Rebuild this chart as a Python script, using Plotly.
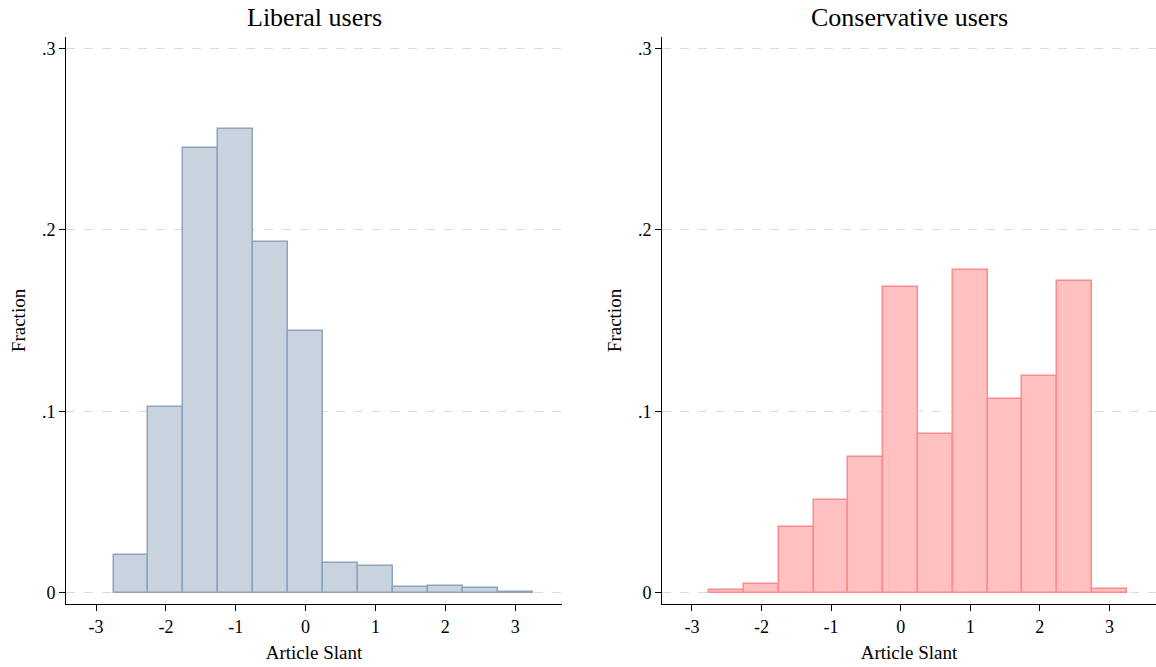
import plotly.graph_objects as go

# Histogram bins: width 0.5, centered on -2.5 ... 3.0
bin_centers = [-2.5, -2.0, -1.5, -1.0, -0.5, 0.0, 0.5, 1.0, 1.5, 2.0, 2.5, 3.0]
bin_width = 0.5

liberal_fraction = [0.0205, 0.1021, 0.2451, 0.2559, 0.1931, 0.1445,
                    0.0162, 0.0145, 0.0030, 0.0035, 0.0025, 0.0005]
conservative_fraction = [0.0013, 0.0046, 0.0360, 0.0509, 0.0746, 0.1683,
                         0.0876, 0.1777, 0.1067, 0.1193, 0.1716, 0.0019]

panel_titles = ["Liberal users", "Conservative users"]
x_ticks = [-3, -2, -1, 0, 1, 2, 3]
x_tick_text = ["-3", "-2", "-1", "0", "1", "2", "3"]
y_ticks = [0, 0.1, 0.2, 0.3]
y_tick_text = ["0", ".1", ".2", ".3"]

FONT = "Liberation Serif"
W, H = 1156, 667
M_L, M_R, M_T, M_B = 66, 0, 37, 63
plot_w = W - M_L - M_R
plot_h = H - M_T - M_B

left_dom = [0, (562 - M_L) / plot_w]
right_dom = [(662 - M_L) / plot_w, 1]

fig = go.Figure()

fig.add_trace(go.Bar(
    x=bin_centers, y=liberal_fraction, width=bin_width,
    marker=dict(color="rgb(200,211,221)", line=dict(color="rgb(142,164,190)", width=1.5)),
    xaxis="x", yaxis="y", showlegend=False,
))
fig.add_trace(go.Bar(
    x=bin_centers, y=conservative_fraction, width=bin_width,
    marker=dict(color="rgb(255,192,193)", line=dict(color="rgb(255,138,140)", width=1.5)),
    xaxis="x2", yaxis="y2", showlegend=False,
))

x_range = [-3.43, 3.67]
y_range = [-0.0063, 0.3064]

common_x = dict(
    range=x_range, tickmode="array", tickvals=x_ticks, ticktext=x_tick_text,
    showgrid=False, zeroline=False, showline=True, linecolor="black", linewidth=1,
    ticks="outside", ticklen=6, tickcolor="black", tickwidth=1,
    tickfont=dict(family=FONT, size=18, color="black"),
    title=dict(text="Article Slant", font=dict(family=FONT, size=19, color="black"), standoff=10),
)
common_y = dict(
    range=y_range, tickmode="array", tickvals=y_ticks, ticktext=y_tick_text,
    showgrid=True, gridcolor="rgb(220,220,220)", griddash="dash", gridwidth=1,
    zeroline=False, showline=True, linecolor="black", linewidth=1,
    ticks="outside", ticklen=6, tickcolor="black", tickwidth=1,
    tickfont=dict(family=FONT, size=18, color="black"),
    title=dict(text="Fraction", font=dict(family=FONT, size=19, color="black"), standoff=11),
)

fig.update_layout(
    width=W, height=H,
    margin=dict(l=M_L, r=M_R, t=M_T, b=M_B),
    paper_bgcolor="white", plot_bgcolor="white",
    bargap=0,
    xaxis=dict(domain=left_dom, anchor="y", **common_x),
    yaxis=dict(domain=[0, 1], anchor="x", **common_y),
    xaxis2=dict(domain=right_dom, anchor="y2", **common_x),
    yaxis2=dict(domain=[0, 1], anchor="x2", **common_y),
)

title_y = 1 + (M_T - 18) / plot_h
for dom, text in zip([left_dom, right_dom], panel_titles):
    fig.add_annotation(
        text=text, xref="paper", yref="paper",
        x=(dom[0] + dom[1]) / 2, y=title_y, xanchor="center", yanchor="middle",
        showarrow=False, font=dict(family=FONT, size=26, color="black"),
    )

fig.write_html("out.html")
